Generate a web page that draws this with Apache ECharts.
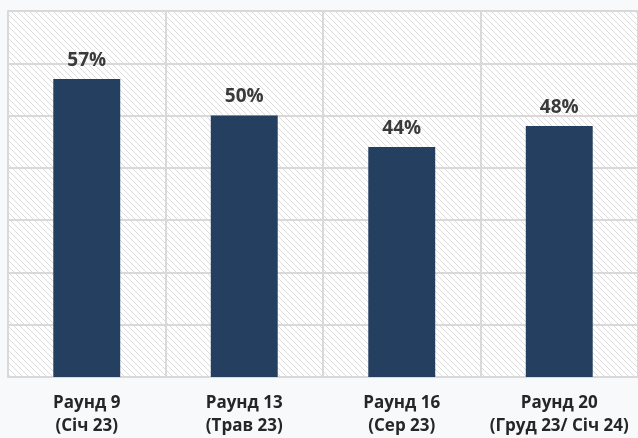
<!DOCTYPE html>
<html>
<head>
<meta charset="utf-8">
<script src="https://cdn.jsdelivr.net/npm/echarts@6/dist/echarts.min.js"></script>
<style>
  html, body { margin: 0; padding: 0; background: #f8f9fb; }
  #chart { width: 638px; height: 438px; }
</style>
</head>
<body>
<div id="chart"></div>
<script>
// data
var categories = ['Раунд 9\n(Січ 23)', 'Раунд 13\n(Трав 23)', 'Раунд 16\n(Сер 23)', 'Раунд 20\n(Груд 23/ Січ 24)'];
var values = [57, 50, 44, 48];

// hatched plot background
var hatch = document.createElement('canvas');
hatch.width = 6;
hatch.height = 6;
var hc = hatch.getContext('2d');
hc.fillStyle = '#ffffff';
hc.fillRect(0, 0, 6, 6);
hc.fillStyle = '#dcdcdc';
for (var i = 0; i < 6; i++) {
    hc.fillRect(i, i, 1, 1);
}

var mychart = echarts.init(document.getElementById('chart'));
mychart.setOption({
    backgroundColor: '#f8f9fb',
    grid: {
        left: 8,
        right: 0,
        top: 11,
        bottom: 59,
        show: true,
        borderWidth: 0,
        backgroundColor: { image: hatch, repeat: 'repeat' }
    },
    xAxis: {
        type: 'category',
        data: categories,
        axisLine: { show: true, lineStyle: { color: '#d9d9d9', width: 2 } },
        axisTick: { show: false },
        splitLine: { show: true, lineStyle: { color: '#d9d9d9', width: 2 } },
        axisLabel: {
            margin: 15,
            color: '#262626',
            fontFamily: 'Open Sans',
            fontWeight: 'bold',
            fontSize: 17,
            lineHeight: 23,
            interval: 0
        }
    },
    yAxis: {
        type: 'value',
        min: 0,
        max: 70,
        interval: 10,
        axisLabel: { show: false },
        axisLine: { show: true, lineStyle: { color: '#d9d9d9', width: 2 } },
        axisTick: { show: false },
        splitLine: { lineStyle: { color: '#d9d9d9', width: 2 } }
    },
    series: [{
        type: 'bar',
        data: values,
        barWidth: '42.5%',
        itemStyle: { color: '#243f60' },
        label: {
            show: true,
            position: 'top',
            distance: 9,
            formatter: '{c}%',
            color: '#3a3a3a',
            fontFamily: 'Open Sans',
            fontWeight: 'bold',
            fontSize: 19
        }
    }]
});
</script>
</body>
</html>
